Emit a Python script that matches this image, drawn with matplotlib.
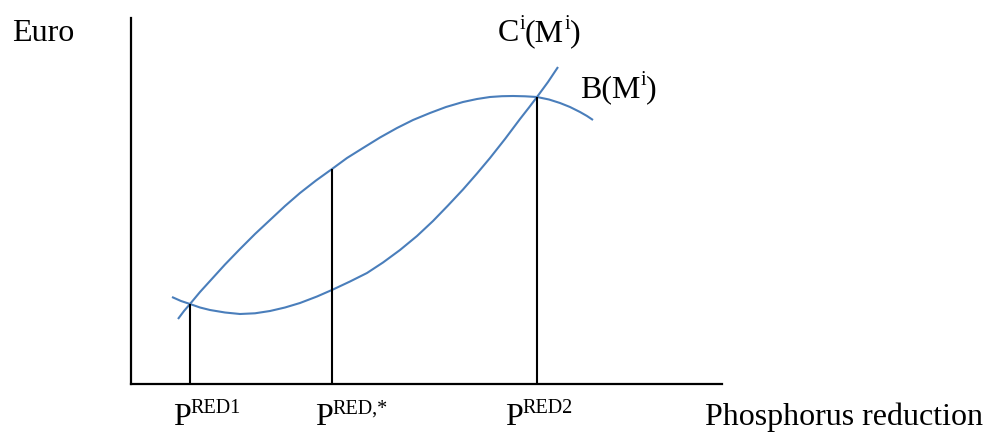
import matplotlib
matplotlib.use("Agg")
import matplotlib.pyplot as plt
from matplotlib import transforms

plt.rcParams['font.family'] = ['Liberation Serif', 'DejaVu Serif']

# Conceptual curves (arbitrary units: phosphorus reduction vs. euro)
cost_x = [41, 50, 59, 69, 79, 94, 109, 124, 139, 154, 169, 186, 202, 219, 236,
          252, 269, 286, 302, 317, 332, 346, 359, 374, 389, 398, 406, 417, 427]
cost_y = [87, 83, 80, 76.5, 74, 71.5, 70, 70.7, 73, 76.5, 81, 87.5, 94.5, 102.5, 111,
          121.5, 134, 148, 163, 178.5, 194.5, 210.5, 226, 245, 265, 276.5, 287, 302, 317]

benefit_x = [47, 53, 59, 69, 79, 94, 109, 124, 139, 154, 169, 185, 201, 216, 232,
             249, 266, 282, 299, 315, 332, 346, 359, 371, 382, 394, 406, 418, 429,
             439, 449, 456, 462]
benefit_y = [65, 73, 80, 92, 103, 119.5, 135, 150, 164, 178, 191, 203.5, 215, 226, 236,
             246.5, 256, 264, 271, 277, 282, 285, 287, 287.8, 288, 287.7, 287, 284.5, 281,
             277, 272, 268, 264]

# Critical points: x position and curve height where the drop line ends
crit_x = [59, 201, 406]
crit_top = [80, 215, 287]
crit_sups = ['RED1', 'RED,*', 'RED2']
crit_label_x = [42, 184, 374]

W, H = 984, 433
fig = plt.figure(figsize=(W / 100, H / 100), dpi=100)
ax = fig.add_axes([131 / W, 49 / H, 591 / W, 366 / H])
ax.set_xlim(0, 591)
ax.set_ylim(0, 366)
for s in ['top', 'right']:
    ax.spines[s].set_visible(False)
for s in ['left', 'bottom']:
    ax.spines[s].set_linewidth(1.6)
    ax.spines[s].set_color('black')
ax.set_xticks([])
ax.set_yticks([])
ax.patch.set_alpha(0)

blue = '#4a7ebb'
ax.plot(cost_x, cost_y, color=blue, lw=1.5, solid_capstyle='butt',
        solid_joinstyle='round', clip_on=False)
ax.plot(benefit_x, benefit_y, color=blue, lw=1.5, solid_capstyle='butt',
        solid_joinstyle='round', clip_on=False)

ax.vlines(crit_x, 0, crit_top, color='black', lw=1.5)

fs = 23
renderer = fig.canvas.get_renderer()


def rich_text(x, y, pieces):
    ox = 0.0
    for s, sup in pieces:
        size = fs * 0.63 if sup else fs
        dy = 0.37 * fs * 100 / 72 if sup else 0.0
        tr = transforms.offset_copy(ax.transData, fig=fig, x=ox, y=dy, units='dots')
        t = ax.text(x, y, s, fontsize=size, transform=tr, ha='left',
                    va='baseline', clip_on=False)
        ox += t.get_window_extent(renderer).width


for lx, sup in zip(crit_label_x, crit_sups):
    rich_text(lx, -41, [('P', False), (sup, True)])

rich_text(-119, 343, [('Euro', False)])
rich_text(367, 343, [('C', False), ('i', True), ('(M', False), ('i', True), (')', False)])
rich_text(449, 287, [('B(M', False), ('i', True), (')', False)])
rich_text(574, -41, [('Phosphorus reduction', False)])

fig.savefig('out.png', dpi=100)
